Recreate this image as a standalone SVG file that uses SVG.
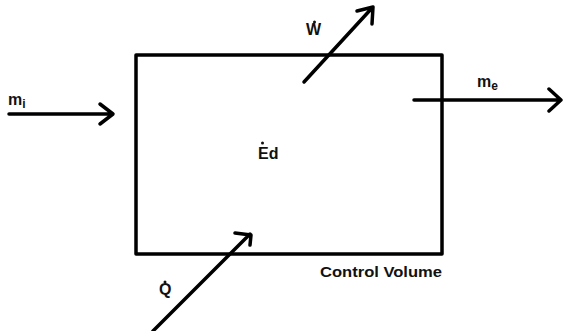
<svg xmlns="http://www.w3.org/2000/svg" width="563" height="331" viewBox="0 0 563 331">
<style>
.ln{stroke:#000;stroke-width:3.5;fill:none;stroke-linecap:round;stroke-linejoin:round}
.lbl{font-family:"Liberation Sans",Arial,sans-serif;font-weight:bold;fill:#111}
</style>
<rect width="563" height="331" fill="#fff"/>
<g id="control-volume">
<rect x="136" y="55" width="306" height="199" class="ln" stroke-linecap="square" stroke-linejoin="miter"/>
<text class="lbl" x="320" y="277" font-size="14" textLength="122" lengthAdjust="spacingAndGlyphs">Control Volume</text>
</g>
<g id="ed">
<text class="lbl" x="258" y="159" font-size="16">Ed</text>
<circle cx="262.5" cy="143" r="1.5" fill="#111"/>
</g>
<g id="mi-label">
<text class="lbl" x="8" y="105" font-size="16">m<tspan font-size="12" dy="3">i</tspan></text>
</g>
<g id="me-label">
<text class="lbl" x="477" y="87" font-size="16">m<tspan font-size="12" dy="3">e</tspan></text>
</g>
<g id="w-label">
<text class="lbl" x="306" y="35" font-size="16">W</text>
<circle cx="314.5" cy="22" r="1.5" fill="#111"/>
</g>
<g id="q-label">
<text class="lbl" x="159" y="295" font-size="16">Q</text>
<circle cx="165" cy="282" r="1.5" fill="#111"/>
</g>
<g id="connectors">
<path class="ln" d="M9 114 H112 M100 104 L113 114 L100 124"/>
<path class="ln" d="M414 100 H560 M549 89 L561 100 L549 111"/>
<path class="ln" d="M304 82 L372 8 M357 11 L373 7 L372 24"/>
<path class="ln" d="M153 331 L250 234 M235 233 L251 235 L250 245"/>
</g>
</svg>
